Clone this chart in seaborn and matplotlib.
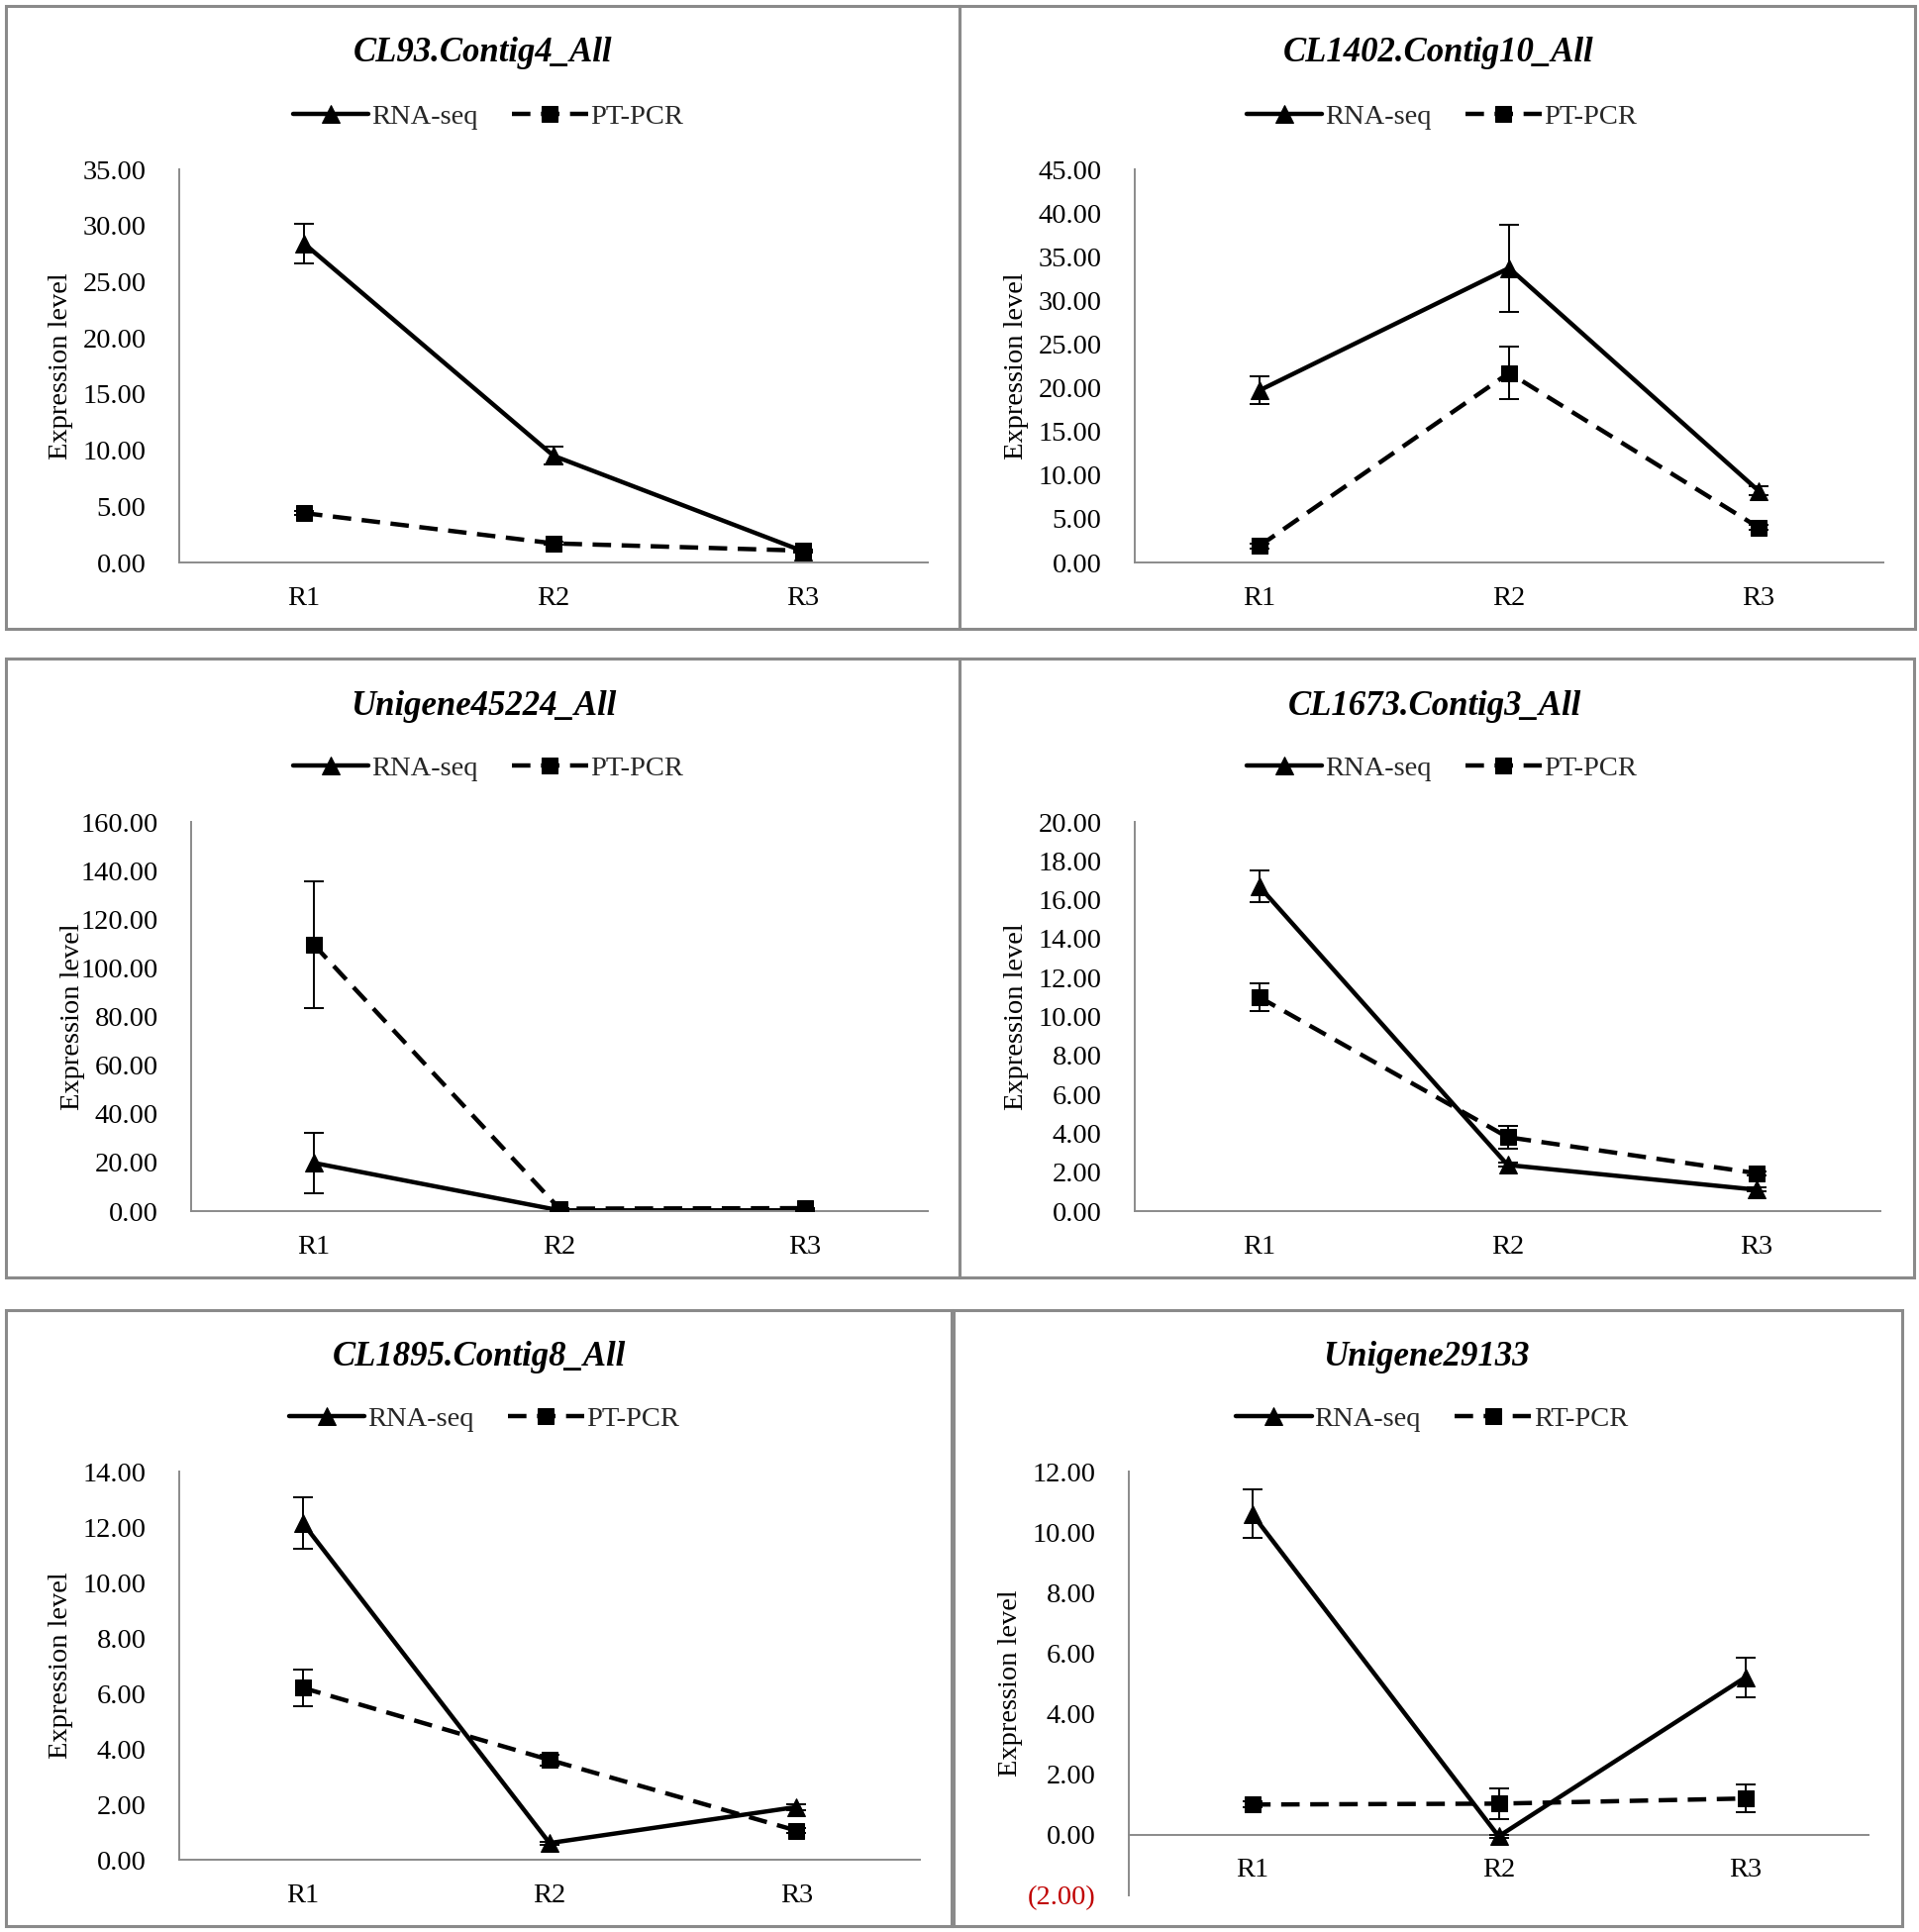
import numpy as np
import pandas as pd
import seaborn as sns
import matplotlib.pyplot as plt
from matplotlib.patches import Rectangle

sns.set_theme(style='white')
plt.rcParams['font.family'] = ['Liberation Serif', 'DejaVu Serif']

# data
regions = ['R1', 'R2', 'R3']

titles = ['CL93.Contig4_All', 'CL1402.Contig10_All', 'Unigene45224_All',
          'CL1673.Contig3_All', 'CL1895.Contig8_All', 'Unigene29133']
pcr_names = ['PT-PCR', 'PT-PCR', 'PT-PCR', 'PT-PCR', 'PT-PCR', 'RT-PCR']

rna_vals = [[28.4, 9.5, 1.0],
            [19.7, 33.7, 8.2],
            [19.8, 0.3, 0.3],
            [16.7, 2.37, 1.1],
            [12.15, 0.6, 1.9],
            [10.6, -0.05, 5.2]]
rna_err = [[1.75, 0.8, 0.15],
           [1.6, 5.0, 0.5],
           [12.3, 0.1, 0.1],
           [0.8, 0.1, 0.1],
           [0.93, 0.05, 0.1],
           [0.8, 0.05, 0.65]]
pcr_vals = [[4.4, 1.7, 1.05],
            [1.9, 21.7, 4.0],
            [109.5, 1.0, 1.2],
            [11.0, 3.8, 1.95],
            [6.2, 3.6, 1.05],
            [1.0, 1.03, 1.2]]
pcr_err = [[0.2, 0.15, 0.1],
           [0.3, 3.0, 0.3],
           [26.0, 0.2, 0.2],
           [0.72, 0.58, 0.1],
           [0.65, 0.2, 0.1],
           [0.1, 0.5, 0.45]]

y_min = [0, 0, 0, 0, 0, -2]
y_max = [35, 45, 160, 20, 14, 12]
y_step = [5, 5, 20, 2, 2, 2]

# layout in pixels (x0, y0, x1, y1), top-left origin
W, H = 1938, 1951
panel_px = [(6, 6, 969, 635), (969, 6, 1934, 635),
            (6, 665, 969, 1290), (969, 665, 1933, 1290),
            (6, 1323, 961, 1945), (963, 1323, 1921, 1945)]
axes_px = [(181, 171, 937, 568), (1146, 171, 1902, 568),
           (193, 830, 937, 1223), (1146, 830, 1899, 1223),
           (181, 1486, 929, 1878), (1140, 1486, 1887, 1914)]
title_xy = [(488, 54), (1453, 54), (488, 713), (1449, 713), (484, 1370), (1440, 1370)]
legend_xy = [(493, 118), (1456, 118), (493, 776), (1456, 776), (489, 1433), (1446, 1433)]

grey = '#8a8a8a'
fs = 20.5

fig = plt.figure(figsize=(W / 100, H / 100), dpi=100)

for i in range(6):
    x0, y0, x1, y1 = panel_px[i]
    fig.patches.append(Rectangle((x0 / W, 1 - y1 / H), (x1 - x0) / W, (y1 - y0) / H,
                                 transform=fig.transFigure, fill=False,
                                 edgecolor=grey, linewidth=2.2, zorder=0))

    ax_x0, ax_y0, ax_x1, ax_y1 = axes_px[i]
    ax = fig.add_axes([ax_x0 / W, 1 - ax_y1 / H, (ax_x1 - ax_x0) / W, (ax_y1 - ax_y0) / H])

    df = pd.DataFrame({
        'pos': list(range(3)) * 2,
        'value': rna_vals[i] + pcr_vals[i],
        'method': ['RNA-seq'] * 3 + [pcr_names[i]] * 3,
    })
    sns.lineplot(data=df, x='pos', y='value', style='method', ax=ax,
                 markers={'RNA-seq': '^', pcr_names[i]: 's'},
                 dashes={'RNA-seq': '', pcr_names[i]: (4.2, 2.4)},
                 color='black', linewidth=3.2, markersize=13,
                 markeredgecolor='black', legend=False, errorbar=None)
    handles = list(ax.lines[:2])
    handles[0].set_label('RNA-seq')
    handles[1].set_label(pcr_names[i])
    handles[1].set_markersize(11.5)

    ax.errorbar(range(3), rna_vals[i], yerr=rna_err[i], fmt='none',
                ecolor='black', elinewidth=1.4, capsize=7, capthick=1.4, zorder=4)
    ax.errorbar(range(3), pcr_vals[i], yerr=pcr_err[i], fmt='none',
                ecolor='black', elinewidth=1.4, capsize=7, capthick=1.4, zorder=4)

    # axes styling, Excel-like
    ax.set_xlim(-0.5, 2.5)
    ax.set_ylim(y_min[i], y_max[i])
    ticks = np.arange(y_min[i], y_max[i] + 0.001, y_step[i])
    ax.set_yticks(ticks)
    ax.set_xticks(range(3))
    ax.set_xticklabels(regions)
    ax.set_xticks([-0.5, 0.5, 1.5, 2.5], minor=True)
    ax.tick_params(axis='x', which='major', length=0, pad=17, labelsize=fs,
                   colors=grey, labelcolor='black')
    ax.tick_params(axis='x', which='minor', length=7, width=1.3, color=grey, direction='out')
    ax.tick_params(axis='y', which='major', length=7, width=1.3, color=grey,
                   direction='out', pad=17, labelsize=fs, labelcolor='black')
    ylabels = ax.set_yticklabels(['({:.2f})'.format(-t) if t < 0 else '{:.2f}'.format(t)
                                  for t in ticks])
    for t, lab in zip(ticks, ylabels):
        if t < 0:
            lab.set_color('#c00000')

    for s in ['top', 'right']:
        ax.spines[s].set_visible(False)
    for s in ['left', 'bottom']:
        ax.spines[s].set_color(grey)
        ax.spines[s].set_linewidth(1.4)
    if y_min[i] < 0:
        ax.spines['bottom'].set_position(('data', 0))

    ax.set_xlabel('')
    ax.set_ylabel('Expression level', fontsize=fs, color='black')
    ax.yaxis.set_label_coords(-107 / (ax_x1 - ax_x0), 0.5)

    tx, ty = title_xy[i]
    fig.text(tx / W, 1 - ty / H, titles[i], ha='center', va='center',
             fontsize=25, fontweight='bold', fontstyle='italic', color='black')

    lx, ly = legend_xy[i]
    ax.legend(handles=handles, loc='center', bbox_to_anchor=(lx / W, 1 - ly / H),
              bbox_transform=fig.transFigure, ncol=2, frameon=False, fontsize=fs,
              handlelength=2.7, handletextpad=0.1, columnspacing=1.2,
              borderpad=0, borderaxespad=0)

fig.savefig('out.png', dpi=100, facecolor='white')
